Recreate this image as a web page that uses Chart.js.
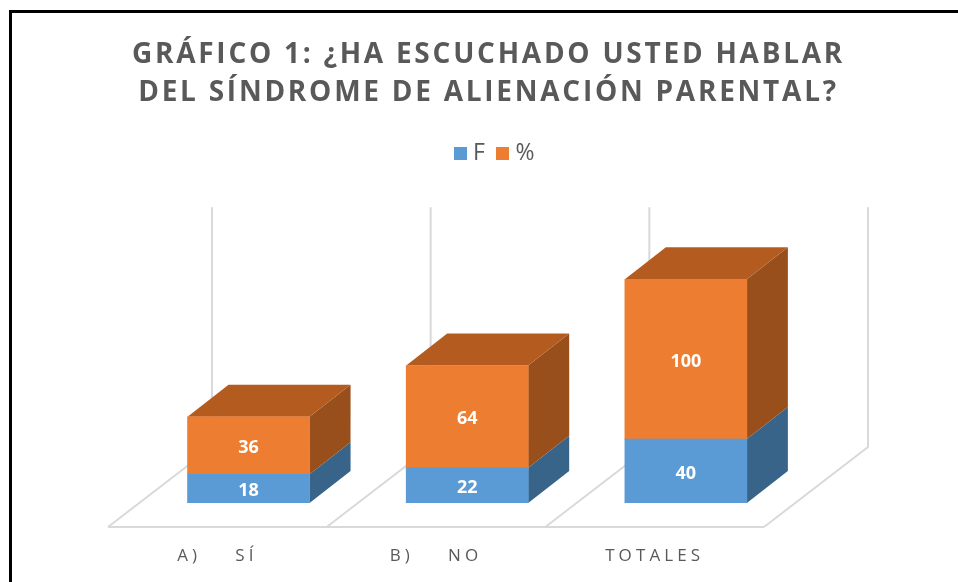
<!DOCTYPE html>
<html>
<head>
<meta charset="utf-8">
<style>
html,body{margin:0;padding:0;background:#fff;width:958px;height:582px;overflow:hidden}
#frame{position:absolute;left:9px;top:10px;width:1000px;height:700px;border-left:3px solid #000;border-top:3px solid #000}
canvas{position:absolute;left:0;top:0}
</style>
<script src="https://cdn.jsdelivr.net/npm/chart.js@4"></script>
</head>
<body>
<div id="frame"></div>
<canvas id="c" width="958" height="582"></canvas>
<script>
const categories = ["A)    SÍ", "B)    NO", "TOTALES"];
const seriesF = [18, 22, 40];
const seriesPct = [36, 64, 100];
const titleLines = ["GRÁFICO 1: ¿HA ESCUCHADO USTED HABLAR", "DEL SÍNDROME DE ALIENACIÓN PARENTAL?"];
const wallMax = 150;

const depth = {dx: 41, dy: 32};
const floor = {dx: 104, dy: 80, drop: 24, shift: 31.2};
const grid = "#d9d9d9";
const shades = [
  {front: "#5B9BD5", side: "#386489", top: "#3E75A6"},
  {front: "#ED7D31", side: "#984F1C", top: "#B45C20"}
];
const tickSpacing = "4.1px";
const titleSpacing = "2.75px";
const titleCentre = 488.5;
const legendCentre = 497;

function poly(ctx, pts, fill) {
  ctx.beginPath();
  pts.forEach((p, i) => i ? ctx.lineTo(p[0], p[1]) : ctx.moveTo(p[0], p[1]));
  ctx.closePath();
  ctx.fillStyle = fill;
  ctx.fill();
}

function swatch(colour) {
  const c = document.createElement("canvas");
  c.width = 13; c.height = 13;
  const g = c.getContext("2d");
  g.fillStyle = colour;
  g.fillRect(0, 0, 13, 13);
  return c;
}
const swatches = shades.map(s => swatch(s.front));

function recentre(box, centre, halfWidth) {
  const half = halfWidth || (box.right - box.left) / 2;
  box.left = centre - half;
  box.right = centre + half;
}

const threeD = {
  id: "threeD",
  beforeUpdate(chart) { chart.ctx.letterSpacing = "0px"; },
  afterLayout(chart) {
    recentre(chart.titleBlock, titleCentre, 440);
    recentre(chart.legend, legendCentre);
    const t = chart.titleBlock;
    if (!t._spaced) {
      const draw = t.draw;
      t.draw = function () {
        chart.ctx.save();
        chart.ctx.letterSpacing = titleSpacing;
        draw.apply(t, arguments);
        chart.ctx.restore();
      };
      t._spaced = true;
    }
    const s = chart.scales.x;
    if (!s._spaced) {
      const drawLabels = s.drawLabels;
      s.drawLabels = function () {
        chart.ctx.save();
        chart.ctx.letterSpacing = tickSpacing;
        drawLabels.apply(s, arguments);
        chart.ctx.restore();
      };
      s._spaced = true;
    }
  },
  beforeDatasetsDraw(chart) {
    const ctx = chart.ctx, x = chart.scales.x, y = chart.scales.y;
    const left = chart.chartArea.left - floor.shift, right = chart.chartArea.right - floor.shift;
    const fy = y.getPixelForValue(0) + floor.drop;
    const step = (right - left) / categories.length;
    ctx.save();
    ctx.strokeStyle = grid;
    ctx.lineWidth = 2;
    const topY = y.getPixelForValue(wallMax) - floor.dy + floor.drop;
    ctx.beginPath();
    ctx.moveTo(left, fy); ctx.lineTo(right, fy);
    for (let i = 0; i <= categories.length; i++) {
      const px = left + i * step;
      ctx.moveTo(px, fy);
      ctx.lineTo(px + floor.dx, fy - floor.dy);
      ctx.lineTo(px + floor.dx, topY);
    }
    ctx.stroke();
    chart.data.datasets.forEach((ds, d) => {
      chart.getDatasetMeta(d).data.forEach(bar => {
        const r = bar.x + bar.width / 2;
        poly(ctx, [[r, bar.base], [r + depth.dx, bar.base - depth.dy], [r + depth.dx, bar.y - depth.dy], [r, bar.y]], shades[d].side);
      });
    });
    const last = chart.data.datasets.length - 1;
    chart.getDatasetMeta(last).data.forEach(bar => {
      const l = bar.x - bar.width / 2, r = bar.x + bar.width / 2;
      poly(ctx, [[l, bar.y], [r, bar.y], [r + depth.dx, bar.y - depth.dy], [l + depth.dx, bar.y - depth.dy]], shades[last].top);
    });
    ctx.restore();
  },
  afterDatasetsDraw(chart) {
    const ctx = chart.ctx;
    ctx.save();
    ctx.fillStyle = "#fff";
    ctx.font = "bold 18px 'Open Sans'";
    ctx.textAlign = "center";
    ctx.textBaseline = "middle";
    chart.data.datasets.forEach((ds, d) => {
      chart.getDatasetMeta(d).data.forEach((bar, i) => {
        ctx.fillText(String(ds.data[i]), bar.x, (bar.y + bar.base) / 2 + 2.5);
      });
    });
    ctx.restore();
  }
};

new Chart(document.getElementById("c"), {
  type: "bar",
  data: {
    labels: categories,
    datasets: [
      {label: "F", data: seriesF, backgroundColor: shades[0].front, barThickness: 122},
      {label: "%", data: seriesPct, backgroundColor: shades[1].front, barThickness: 122}
    ]
  },
  options: {
    responsive: false,
    animation: false,
    layout: {padding: {left: 139.2, right: 162.8, top: 36, bottom: 0}},
    plugins: {
      tooltip: {enabled: false},
      title: {
        display: true,
        text: titleLines,
        color: "#595959",
        font: {family: "'Open Sans'", size: 28, weight: "bold", lineHeight: 1.368},
        padding: {top: 0, bottom: 12}
      },
      legend: {
        display: true,
        position: "top",
        labels: {
          color: "#595959",
          font: {family: "'Open Sans'", size: 23},
          boxWidth: 13,
          boxHeight: 13,
          padding: 17,
          usePointStyle: true,
          pointStyleWidth: 2,
          generateLabels(chart) {
            const items = Chart.defaults.plugins.legend.labels.generateLabels(chart);
            items.forEach((it, i) => { it.pointStyle = swatches[i]; });
            return items;
          }
        }
      }
    },
    scales: {
      x: {
        stacked: true,
        grid: {display: false, drawTicks: false},
        border: {display: false},
        ticks: {color: "#595959", font: {family: "'Open Sans'", size: 17}, padding: 43, maxRotation: 0, labelOffset: -31.2},
        afterFit(s) { s.height = 79; }
      },
      y: {stacked: true, display: false, min: 0, max: 205.5}
    }
  },
  plugins: [threeD]
});
</script>
</body>
</html>
